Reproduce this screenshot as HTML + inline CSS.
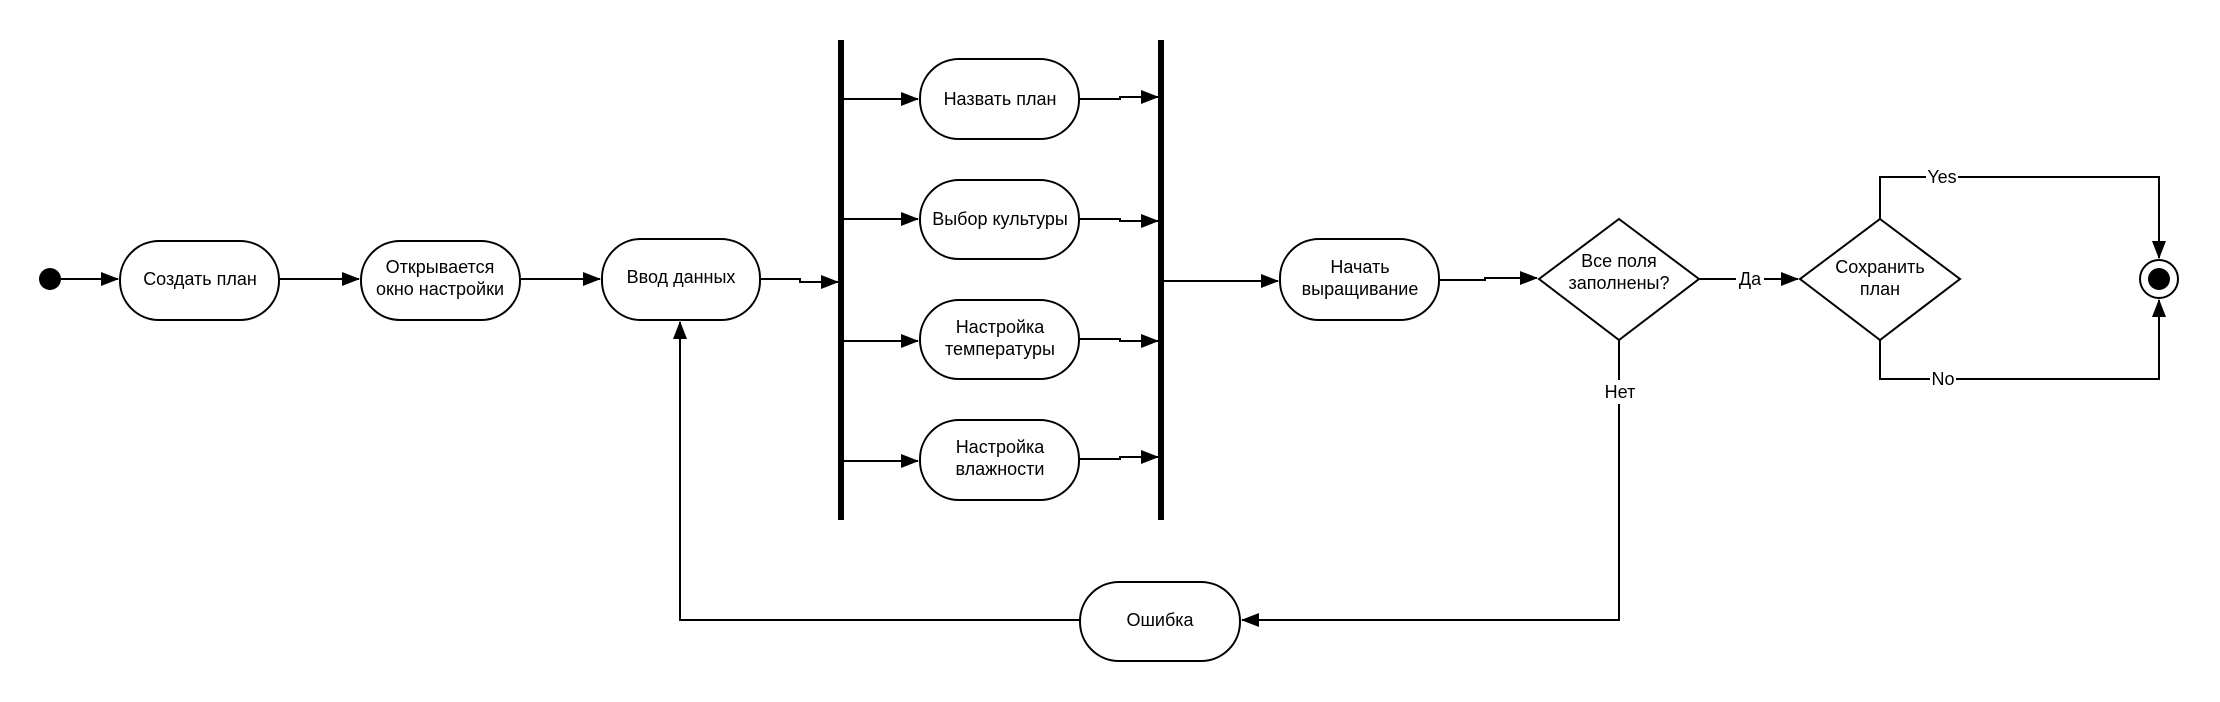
<!DOCTYPE html>
<html><head><meta charset="utf-8"><style>
html,body{margin:0;padding:0;background:#fff;}
svg{display:block;}
text{font-family:"Liberation Sans",sans-serif;font-size:18px;fill:#000;text-anchor:middle;}
</style></head><body>
<svg width="2220" height="702" viewBox="0 0 2220 702" xmlns="http://www.w3.org/2000/svg">
<defs>
<marker id="a" markerWidth="18" markerHeight="14" refX="17" refY="7" orient="auto" markerUnits="userSpaceOnUse">
<path d="M0,0 L18,7 L0,14 Z" fill="#000"/></marker>
</defs>
<g fill="none" stroke="#000" stroke-width="2">
<rect x="120" y="241" width="159" height="79" rx="39" fill="#fff"/>
<rect x="361" y="241" width="159" height="79" rx="39" fill="#fff"/>
<rect x="602" y="239" width="158" height="81" rx="39" fill="#fff"/>
<rect x="920" y="59" width="159" height="80" rx="39" fill="#fff"/>
<rect x="920" y="180" width="159" height="79" rx="39" fill="#fff"/>
<rect x="920" y="300" width="159" height="79" rx="39" fill="#fff"/>
<rect x="920" y="420" width="159" height="80" rx="39" fill="#fff"/>
<rect x="1280" y="239" width="159" height="81" rx="39" fill="#fff"/>
<rect x="1080" y="582" width="160" height="79" rx="39" fill="#fff"/>
<polygon points="1619,219 1699,279 1619,340 1539,279" fill="#fff"/>
<polygon points="1880,219 1960,279 1880,340 1800,279" fill="#fff"/>
<circle cx="2159" cy="279" r="19"/>
<path d="M60,279 H118" marker-end="url(#a)"/>
<path d="M279,279 H359" marker-end="url(#a)"/>
<path d="M520,279 H600" marker-end="url(#a)"/>
<path d="M760,279 H800 V282 H838" marker-end="url(#a)"/>
<path d="M844,99 H918" marker-end="url(#a)"/>
<path d="M844,219 H918" marker-end="url(#a)"/>
<path d="M844,341 H918" marker-end="url(#a)"/>
<path d="M844,461 H918" marker-end="url(#a)"/>
<path d="M1079,99 H1120 V97 H1158" marker-end="url(#a)"/>
<path d="M1079,219 H1120 V221 H1158" marker-end="url(#a)"/>
<path d="M1079,339 H1120 V341 H1158" marker-end="url(#a)"/>
<path d="M1079,459 H1120 V457 H1158" marker-end="url(#a)"/>
<path d="M1164,281 H1278" marker-end="url(#a)"/>
<path d="M1439,280 H1485 V278 H1537" marker-end="url(#a)"/>
<path d="M1699,279 H1798" marker-end="url(#a)"/>
<path d="M1880,219 V177 H2159 V258" marker-end="url(#a)"/>
<path d="M1880,340 V379 H2159 V300" marker-end="url(#a)"/>
<path d="M1619,340 V620 H1242" marker-end="url(#a)"/>
<path d="M1080,620 H680 V322" marker-end="url(#a)"/>
</g>
<circle cx="50" cy="279" r="11" fill="#000"/>
<circle cx="2159" cy="279" r="11" fill="#000"/>
<rect x="838" y="40" width="6" height="480" fill="#000"/>
<rect x="1158" y="40" width="6" height="480" fill="#000"/>
<rect x="1736" y="268" width="28" height="22" fill="#fff"/>
<rect x="1926" y="166" width="32" height="22" fill="#fff"/>
<rect x="1930" y="368" width="26" height="22" fill="#fff"/>
<rect x="1602" y="380" width="36" height="24" fill="#fff"/>
<text x="200" y="285">Создать план</text>
<text x="440" y="273">Открывается</text>
<text x="440" y="295">окно настройки</text>
<text x="681" y="283">Ввод данных</text>
<text x="1000" y="105">Назвать план</text>
<text x="1000" y="225">Выбор культуры</text>
<text x="1000" y="333">Настройка</text>
<text x="1000" y="355">температуры</text>
<text x="1000" y="453">Настройка</text>
<text x="1000" y="475">влажности</text>
<text x="1360" y="273">Начать</text>
<text x="1360" y="295">выращивание</text>
<text x="1619" y="267">Все поля</text>
<text x="1619" y="289">заполнены?</text>
<text x="1880" y="273">Сохранить</text>
<text x="1880" y="295">план</text>
<text x="1160" y="626">Ошибка</text>
<text x="1750" y="285">Да</text>
<text x="1942" y="183">Yes</text>
<text x="1943" y="385">No</text>
<text x="1620" y="398">Нет</text>
</svg>
</body></html>
